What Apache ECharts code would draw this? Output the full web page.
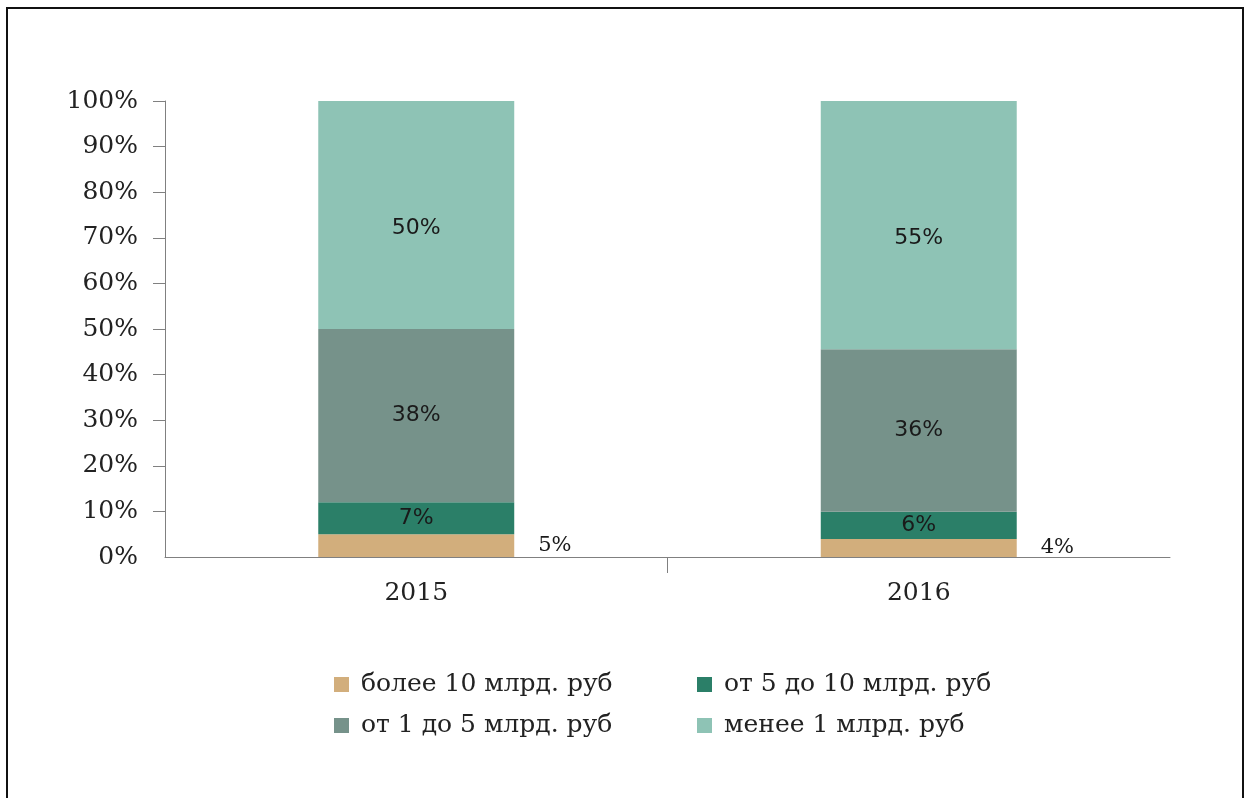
<!DOCTYPE html>
<html>
<head>
<meta charset="utf-8">
<script src="https://cdn.jsdelivr.net/npm/echarts@6/dist/echarts.min.js"></script>
<style>
html,body{margin:0;padding:0;background:#fff;}
#c{width:1251px;height:798px;}
</style>
</head>
<body>
<div id="c"></div>
<script>
const categories = ['2015', '2016'];
const seriesNames = ['более 10 млрд. руб', 'от 5 до 10 млрд. руб', 'от 1 до 5 млрд. руб', 'менее 1 млрд. руб'];
const over10 = [5, 4];
const from5to10 = [7, 6];
const from1to5 = [38, 36];
const under1 = [50, 55];
const yTicks = [0, 10, 20, 30, 40, 50, 60, 70, 80, 90, 100];

const colors = ['#D2AE7C', '#2B7F68', '#76928A', '#8EC3B5'];
const raw = [over10, from5to10, from1to5, under1];
const totals = categories.map((_, i) => raw.reduce((s, a) => s + a[i], 0));

const serif = '"DejaVu Serif", "Liberation Serif", serif';
const sans = '"DejaVu Sans", "Open Sans", sans-serif';

const series = raw.map((arr, k) => ({
  name: seriesNames[k],
  type: 'bar',
  stack: 'total',
  barWidth: '39%',
  xAxisIndex: 0,
  itemStyle: { color: colors[k] },
  data: arr.map((v, i) => ({ value: v / totals[i] * 100, raw: v })),
  label: {
    show: true,
    position: k === 0 ? 'right' : 'inside',
    distance: 24,
    offset: k === 3 ? [0, 13] : [0, 0],
    fontFamily: k === 0 ? serif : sans,
    fontSize: k === 0 ? 21 : 22,
    color: '#1a1a1a',
    formatter: p => p.data.raw + '%'
  }
}));

const chart = echarts.init(document.getElementById('c'));
chart.setOption({
  animation: false,
  backgroundColor: '#fff',
  textStyle: { fontFamily: serif },
  graphic: [{
    type: 'rect',
    shape: { x: 7, y: 8, width: 1236, height: 820 },
    style: { fill: 'none', stroke: '#111', lineWidth: 2 },
    silent: true
  }],
  grid: { left: 165, right: 81, top: 101, bottom: 241 },
  xAxis: [{
    type: 'category',
    data: categories,
    axisLine: { lineStyle: { color: '#808080', width: 1 } },
    axisTick: { show: false },
    axisLabel: { fontFamily: serif, fontSize: 25, color: '#222', margin: 24 }
  }, {
    type: 'value',
    position: 'bottom',
    min: 0, max: 2,
    axisLine: { show: false },
    splitLine: { show: false },
    axisLabel: { show: false },
    axisTick: { show: true, length: 16, customValues: [1], lineStyle: { color: '#808080' } }
  }],
  yAxis: {
    type: 'value',
    min: 0, max: 100, interval: 10,
    splitLine: { show: false },
    axisLine: { show: true, lineStyle: { color: '#808080', width: 1 } },
    axisTick: { show: true, length: 12, customValues: yTicks.slice(1), lineStyle: { color: '#808080' } },
    axisLabel: {
      fontFamily: serif, fontSize: 25, color: '#222', margin: 27,
      formatter: v => (yTicks.indexOf(v) >= 0 ? v + '%' : '')
    }
  },
  legend: [{
    data: [seriesNames[0], seriesNames[2]],
    orient: 'vertical',
    left: 329, top: 667,
    itemWidth: 15, itemHeight: 15, itemGap: 16,
    icon: 'rect',
    textStyle: { fontFamily: serif, fontSize: 25, color: '#222', padding: [0, 0, 0, 7] }
  }, {
    data: [seriesNames[1], seriesNames[3]],
    orient: 'vertical',
    left: 692, top: 667,
    itemWidth: 15, itemHeight: 15, itemGap: 16,
    icon: 'rect',
    textStyle: { fontFamily: serif, fontSize: 25, color: '#222', padding: [0, 0, 0, 7] }
  }],
  series: series
});
</script>
</body>
</html>
